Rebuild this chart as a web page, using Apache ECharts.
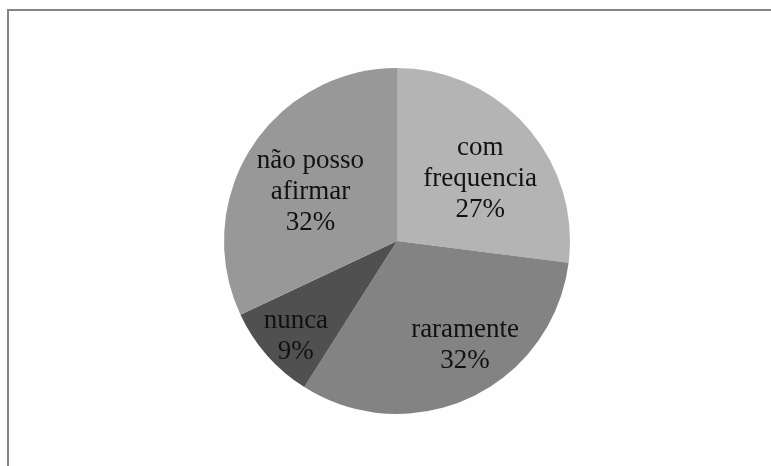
<!DOCTYPE html>
<html>
<head>
<meta charset="utf-8">
<script src="https://cdn.jsdelivr.net/npm/echarts@6/dist/echarts.min.js"></script>
<style>
html,body{margin:0;padding:0;background:#fefefe;}
#chart{width:771px;height:466px;}
</style>
</head>
<body>
<div id="chart"></div>
<script>
const categories = ['com\nfrequencia', 'raramente', 'nunca', 'não posso\nafirmar'];
const values = [27, 32, 9, 32];
const colors = ['#b4b4b4', '#838383', '#505050', '#989898'];
// label nudges relative to the default inside position
const labelShift = [[16, -3], [30, 23], [-34, 36], [-11, -1]];

const chart = echarts.init(document.getElementById('chart'), null, {renderer: 'canvas'});
const data = categories.map((c, i) => ({
  name: c,
  value: values[i],
  itemStyle: {color: colors[i]}
}));

chart.setOption({
  animation: false,
  backgroundColor: '#fefefe',
  graphic: [
    {type: 'line', shape: {x1: 7, y1: 10, x2: 771, y2: 10}, style: {stroke: '#858585', lineWidth: 2}},
    {type: 'line', shape: {x1: 8, y1: 9, x2: 8, y2: 466}, style: {stroke: '#858585', lineWidth: 2}}
  ],
  series: [{
    type: 'pie',
    center: [397, 241],
    radius: 173,
    startAngle: 90,
    clockwise: true,
    avoidLabelOverlap: false,
    minShowLabelAngle: 0,
    itemStyle: {borderWidth: 0},
    label: {
      show: true,
      position: 'inside',
      formatter: '{b}\n{d}%',
      fontFamily: '"Liberation Serif", "Times New Roman", serif',
      fontSize: 27,
      lineHeight: 31,
      color: '#111',
      align: 'center'
    },
    labelLayout: function (params) {
      const s = labelShift[params.dataIndex];
      return {dx: s[0], dy: s[1]};
    },
    labelLine: {show: false},
    emphasis: {disabled: true},
    data: data
  }]
});
</script>
</body>
</html>
